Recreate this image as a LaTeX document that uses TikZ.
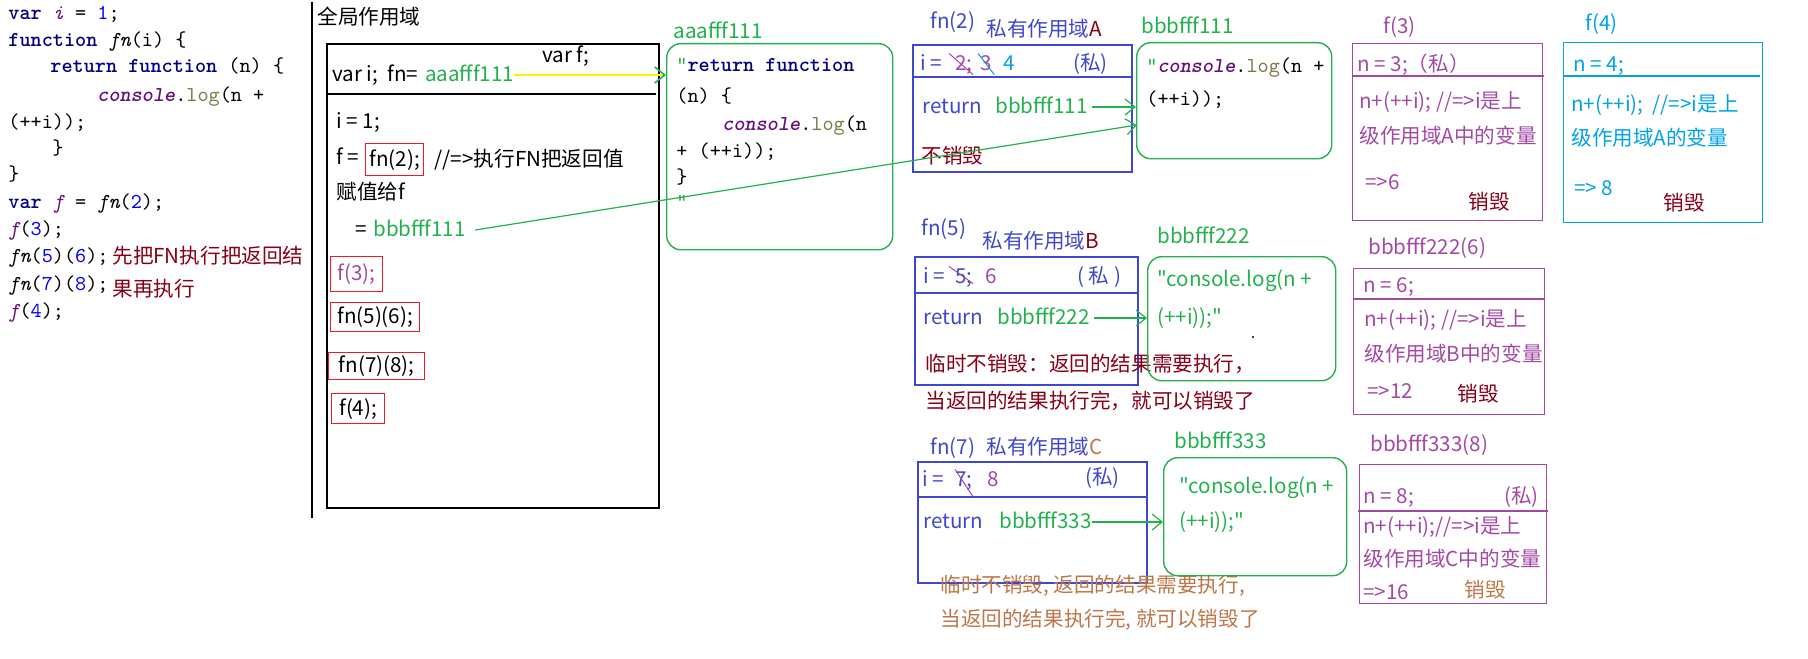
\documentclass[tikz,border=0pt]{standalone}
\usepackage{fontspec}
\setmainfont{Noto Sans CJK SC}[Ligatures=TeXOff]
\usepackage{xcolor}
\usepackage{tikz}
\usetikzlibrary{arrows.meta,positioning}

\definecolor{scopeblue}{RGB}{63,72,204}
\definecolor{heapgreen}{RGB}{34,177,76}
\definecolor{callpurple}{RGB}{163,73,164}
\definecolor{boxred}{RGB}{237,28,36}
\definecolor{darkred}{RGB}{136,0,21}
\definecolor{skyblue}{RGB}{0,162,232}
\definecolor{notebrown}{RGB}{190,118,72}
\definecolor{refyellow}{RGB}{255,242,0}
\definecolor{kwnavy}{RGB}{0,0,128}
\definecolor{globpurple}{RGB}{102,14,122}
\definecolor{numblue}{RGB}{0,0,255}
\definecolor{methodolive}{RGB}{122,122,67}

\newcommand{\jskw}[1]{\textcolor{kwnavy}{\bfseries #1}}
\newcommand{\jsnum}[1]{\textcolor{numblue}{#1}}
\newcommand{\jsglob}[1]{\textcolor{globpurple}{\itshape #1}}
\newcommand{\jscon}{\textcolor{globpurple}{\bfseries\itshape console}.\textcolor{methodolive}{log}}

\begin{document}
\begin{tikzpicture}[x=0.5pt,y=-0.5pt,
  txt/.style={anchor=west,inner sep=0pt,font=\fontsize{10.3}{12}\selectfont,text height=8.4pt,text depth=1.8pt},
  code/.style={anchor=west,inner sep=0pt,font=\fontsize{10.6}{13}\ttfamily,text height=7.4pt,text depth=2.4pt},
  scopebox/.style={draw=scopeblue,line width=0.8pt,inner sep=0pt,anchor=north west},
  heapbox/.style={draw=heapgreen,line width=0.7pt,rounded corners=7pt,inner sep=0pt,anchor=north west},
  callframe/.style={draw=#1,line width=0.7pt,inner sep=0pt,anchor=north west},
  callbox/.style={txt,draw=boxred,line width=0.7pt,anchor=north west},
  ref/.style={heapgreen,line width=0.6pt,-{Straight Barb[length=5pt,width=8pt]}},
  strike/.style={line width=0.5pt}]
  \useasboundingbox (0,0) rectangle (1808,658);

  % Source code on the left
  \node[code] (l1) at (8,15) {\jskw{var} \jsglob{i} = \jsnum{1};};
  \node[code] (l2) at (8,42) {\jskw{function} {\itshape fn}(i) \{};
  \node[code] (l3) at (50,68) {\jskw{return} \jskw{function} (n) \{};
  \node[code] (l4) at (97,97) {\jscon(n +};
  \node[code] (l5) at (8,123) {(++i));};
  \node[code] (l6) at (52,150) {\}};
  \node[code] (l7) at (8,175) {\}};
  \node[code] (l8) at (8,203) {\jskw{var} \jsglob{f} = {\itshape fn}(\jsnum{2});};
  \node[code] (l9) at (8,230) {\jsglob{f}(\jsnum{3});};
  \node[code] (l10) at (8,257) {{\itshape fn}(\jsnum{5})(\jsnum{6});};
  \node[code] (l11) at (8,285) {{\itshape fn}(\jsnum{7})(\jsnum{8});};
  \node[code] (l12) at (8,312) {\jsglob{f}(\jsnum{4});};
  \node[txt,darkred] (note1) at (112,257) {先把FN执行把返回结};
  \node[txt,darkred] (note2) at (112,290) {果再执行};

  % Global scope
  \draw[line width=1pt] (312,2) -- (312,518);
  \node[txt] (gtitle) at (317,18) {全局作用域};
  \node[callframe=black,line width=1pt,minimum width=166pt,minimum height=232pt] (global) at (326,43) {};
  \draw[line width=0.8pt] (326,94) -- (656,94);
  \node[txt] (gvarf) at (542,56) {var f;};
  \node[txt] (gvari) at (332,75) {var i;\ \ fn=};
  \node[txt,heapgreen,right=3pt of gvari] (gaaa) {aaafff111};
  \node[txt] (gi) at (336,122) {i = 1;};
  \node[txt] (gf) at (336,158) {f =};
  \node[callbox,minimum width=29pt,minimum height=16pt] (call2) at (365,143) {fn(2);};
  \node[txt,right=5pt of call2] (gnote) {//=>执行FN把返回值};
  \node[txt] (gassign) at (336,193) {赋值给f};
  \node[txt] (geq) at (355,230) {=};
  \node[txt,heapgreen] (gbbb) at (373,230) {bbbfff111};
  \node[callbox,text=callpurple,minimum width=26pt,minimum height=17.5pt] (call3) at (330,256) {f(3);};
  \node[callbox,minimum width=44.5pt,minimum height=14.5pt] (call56) at (330,302) {fn(5)(6);};
  \node[callbox,minimum width=48pt,minimum height=13.5pt] (call78) at (328,352) {fn(7)(8);};
  \node[callbox,minimum width=26.5pt,minimum height=15pt] (call4) at (331,393) {f(4);};

  % Heap aaafff111
  \node[txt,heapgreen] (aaalbl) at (673,32) {aaafff111};
  \node[heapbox,minimum width=113pt,minimum height=103pt] (aaa) at (666,43) {};
  \node[code] (a1) at (676,67) {\textcolor{heapgreen}{"}\jskw{return} \jskw{function}};
  \node[code] (a2) at (676,98) {(n) \{};
  \node[code] (a3) at (722,125) {\jscon(n};
  \node[code] (a4) at (676,152) {+ (++i));};
  \node[code] (a5) at (676,178) {\}};
  \node[code,heapgreen] (a6) at (676,203) {"};
  \draw[refyellow,line width=0.8pt,-{Straight Barb[length=5pt,width=8pt,color=heapgreen]}]
    (gaaa.east) -- (gaaa.east -| aaa.west);

  % Private scope A
  \node[txt,scopeblue] (fn2) at (930,22) {fn(2)};
  \node[txt,scopeblue] (scopeAlbl) at (986,30) {私有作用域\textcolor{darkred}{A}};
  \node[scopebox,minimum width=109.5pt,minimum height=63.5pt] (scopeA) at (912,44) {};
  \draw[scopeblue,line width=0.8pt] (912,77) -- (1131,77);
  \node[txt,scopeblue] (Ai) at (920,64) {i =};
  \node[txt,callpurple] (Ai2) at (955,64) {2;};
  \node[txt,callpurple] (Ai3) at (980,64) {3};
  \node[txt,skyblue] (Ai4) at (1003,64) {4};
  \draw[callpurple,strike] ([xshift=-3pt]Ai2.north west) -- (Ai2.south east);
  \draw[skyblue,strike] ([xshift=-1pt]Ai3.north west) -- ([xshift=1pt]Ai3.south east);
  \node[txt,scopeblue] (Apriv) at (1073,64) {(私)};
  \node[txt,scopeblue] (Aret) at (922,107) {return};
  \node[txt,heapgreen] (Abbb) at (995,107) {bbbfff111};
  \node[txt,darkred] (Akeep) at (921,157) {不销毁};

  % Heap bbbfff111
  \node[txt,heapgreen] (bbb1lbl) at (1141,27) {bbbfff111};
  \node[heapbox,minimum width=97.5pt,minimum height=58pt] (bbb1) at (1136,42) {};
  \node[code] (b1a) at (1146,68) {\textcolor{heapgreen}{"}\jscon(n +};
  \node[code] (b1b) at (1146,100) {(++i));};
  \coordinate (bbb1in) at (1137,125);
  \draw[ref] ([xshift=2pt]Abbb.east) -- (Abbb.east -| bbb1.west);
  \draw[ref] ([xshift=4.5pt]gbbb.east) -- (bbb1in);

  % Call f(3)
  \node[txt,callpurple] (f3lbl) at (1383,27) {f(3)};
  \node[callframe=callpurple,minimum width=95pt,minimum height=88.5pt] (f3box) at (1352,43) {};
  \draw[callpurple,line width=0.7pt] (1352,76) -- (1544,76);
  \node[txt,callpurple] (f3n) at (1357,65) {n = 3;（私）};
  \node[txt,callpurple] (f3a) at (1359,102) {n+(++i); //=>i是上};
  \node[txt,callpurple] (f3b) at (1359,137) {级作用域A中的变量};
  \node[txt,callpurple] (f3c) at (1365,183) {=>6};
  \node[txt,darkred] (f3d) at (1468,203) {销毁};

  % Call f(4)
  \node[txt,skyblue] (f4lbl) at (1585,24) {f(4)};
  \node[callframe=skyblue,minimum width=99.5pt,minimum height=90pt] (f4box) at (1563,42) {};
  \draw[skyblue,line width=0.7pt] (1563,76) -- (1760,76);
  \node[txt,skyblue] (f4n) at (1573,65) {n = 4;};
  \node[txt,skyblue] (f4a) at (1571,105) {n+(++i);\ \ //=>i是上};
  \node[txt,skyblue] (f4b) at (1571,139) {级作用域A的变量};
  \node[txt,skyblue] (f4c) at (1574,189) {=> 8};
  \node[txt,darkred] (f4d) at (1663,204) {销毁};

  % Private scope B
  \node[txt,scopeblue] (fn5) at (921,229) {fn(5)};
  \node[txt,scopeblue] (scopeBlbl) at (982,242) {私有作用域\textcolor{darkred}{B}};
  \node[scopebox,minimum width=111.5pt,minimum height=64pt] (scopeB) at (914,256) {};
  \draw[scopeblue,line width=0.8pt] (914,293) -- (1137,293);
  \node[txt,scopeblue] (Bi) at (923,277) {i =};
  \node[txt,scopeblue] (Bi5) at (955,277) {5;};
  \node[txt,callpurple] (Bi6) at (985,277) {6};
  \draw[callpurple,strike] ([xshift=-3pt]Bi5.north west) -- ([yshift=2pt]Bi5.south east);
  \node[txt,scopeblue] (Bpriv) at (1077,277) {( 私 )};
  \node[txt,scopeblue] (Bret) at (923,318) {return};
  \node[txt,heapgreen] (Bbbb) at (997,318) {bbbfff222};
  \node[txt,darkred] (Bnote1) at (925,365) {临时不销毁：返回的结果需要执行，};
  \node[txt,darkred] (Bnote2) at (925,402) {当返回的结果执行完，就可以销毁了};

  % Heap bbbfff222
  \node[txt,heapgreen] (bbb2lbl) at (1157,237) {bbbfff222};
  \node[heapbox,minimum width=94pt,minimum height=62pt] (bbb2) at (1147,256) {};
  \node[txt,heapgreen] (b2a) at (1157,280) {"console.log(n +};
  \node[txt,heapgreen] (b2b) at (1157,318) {(++i));"};
  \fill (1253,337) circle (0.6pt);
  \draw[ref] ([xshift=2pt]Bbbb.east) -- (Bbbb.east -| bbb2.west);

  % Call bbbfff222(6)
  \node[txt,callpurple] (b6lbl) at (1368,248) {bbbfff222(6)};
  \node[callframe=callpurple,minimum width=95.5pt,minimum height=73pt] (b6box) at (1353,268) {};
  \draw[callpurple,line width=0.7pt] (1353,299) -- (1544,299);
  \node[txt,callpurple] (b6n) at (1363,286) {n = 6;};
  \node[txt,callpurple] (b6a) at (1364,320) {n+(++i); //=>i是上};
  \node[txt,callpurple] (b6b) at (1364,355) {级作用域B中的变量};
  \node[txt,callpurple] (b6c) at (1367,392) {=>12};
  \node[txt,darkred] (b6d) at (1457,395) {销毁};

  % Private scope C
  \node[txt,scopeblue] (fn7) at (930,448) {fn(7)};
  \node[txt,scopeblue] (scopeClbl) at (986,448) {私有作用域\textcolor{notebrown}{C}};
  \node[scopebox,minimum width=114.5pt,minimum height=60.5pt] (scopeC) at (917,461) {};
  \draw[scopeblue,line width=0.8pt] (917,497) -- (1146,497);
  \node[txt,scopeblue] (Ci) at (922,480) {i =};
  \node[txt,scopeblue] (Ci7) at (955,480) {7;};
  \node[txt,callpurple] (Ci8) at (987,480) {8};
  \draw[callpurple,strike] (Ci7.north west) -- ([yshift=-3pt]Ci7.south east);
  \node[txt,scopeblue] (Cpriv) at (1085,478) {(私)};
  \node[txt,scopeblue] (Cret) at (923,522) {return};
  \node[txt,heapgreen] (Cbbb) at (999,522) {bbbfff333};
  \node[txt,notebrown] (Cnote1) at (940,586) {临时不销毁, 返回的结果需要执行,};
  \node[txt,notebrown] (Cnote2) at (940,620) {当返回的结果执行完, 就可以销毁了};

  % Heap bbbfff333
  \node[txt,heapgreen] (bbb3lbl) at (1174,442) {bbbfff333};
  \node[heapbox,minimum width=91.5pt,minimum height=59pt] (bbb3) at (1163,457) {};
  \node[txt,heapgreen] (b3a) at (1179,487) {"console.log(n +};
  \node[txt,heapgreen] (b3b) at (1179,522) {(++i));"};
  \draw[ref] (Cbbb.east) -- (Cbbb.east -| bbb3.west);

  % Call bbbfff333(8)
  \node[txt,callpurple] (b8lbl) at (1370,445) {bbbfff333(8)};
  \node[callframe=callpurple,minimum width=93.5pt,minimum height=69.5pt] (b8box) at (1359,464) {};
  \draw[callpurple,line width=0.7pt] (1358,511) -- (1548,511);
  \node[txt,callpurple] (b8n) at (1363,497) {n = 8;};
  \node[txt,callpurple] (b8p) at (1504,497) {(私)};
  \node[txt,callpurple] (b8a) at (1363,527) {n+(++i);//=>i是上};
  \node[txt,callpurple] (b8b) at (1363,560) {级作用域C中的变量};
  \node[txt,callpurple] (b8c) at (1363,593) {=>16};
  \node[txt,notebrown] (b8d) at (1464,591) {销毁};
\end{tikzpicture}
\end{document}
